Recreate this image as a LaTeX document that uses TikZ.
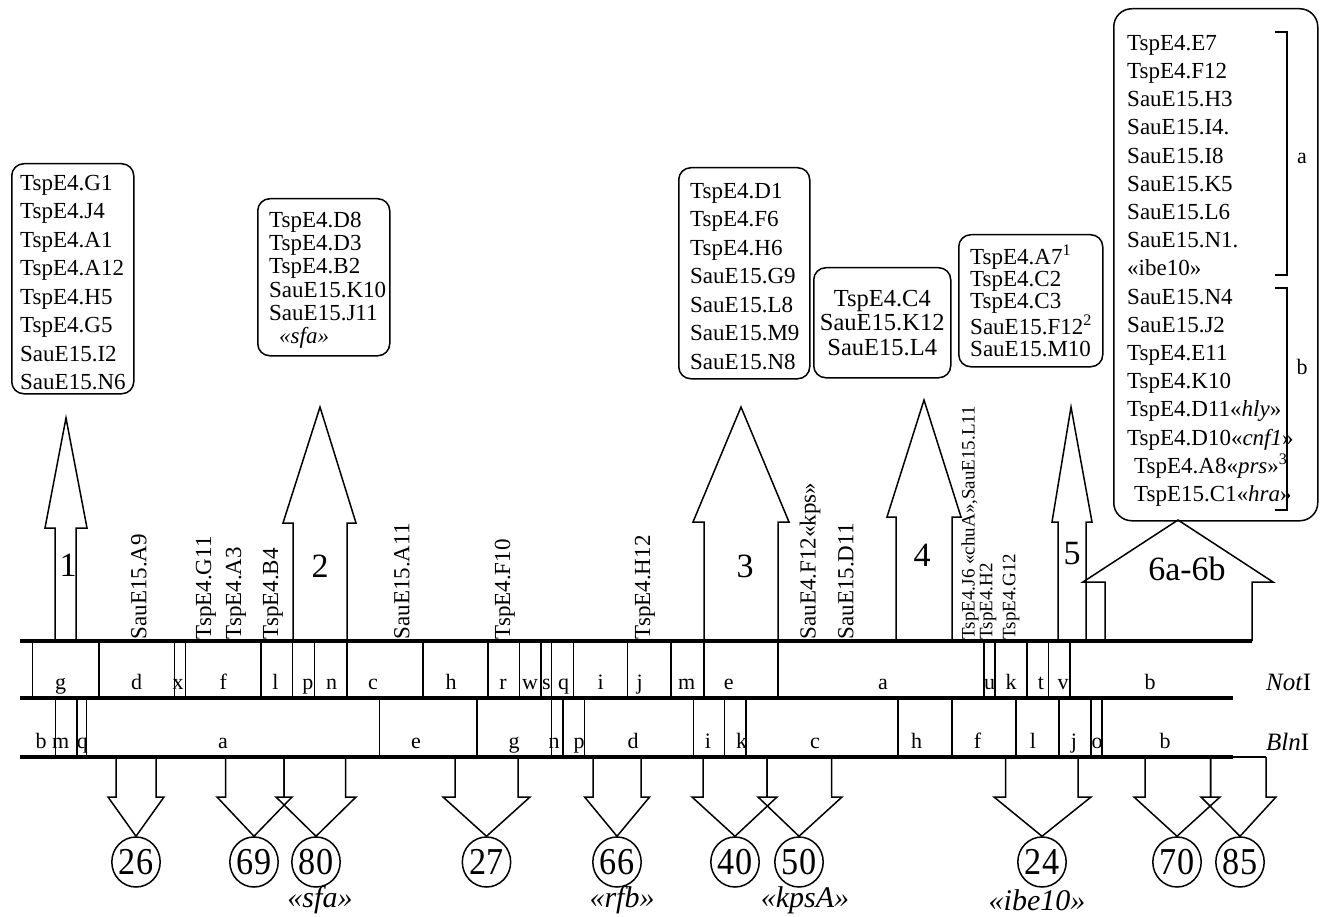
\documentclass[tikz,border=0pt]{standalone}
\usepackage{fontspec}
\setmainfont{Liberation Serif}
\usepackage{graphicx}
\usetikzlibrary{shapes.geometric}
\begin{document}
\begin{tikzpicture}[x=1pt,y=-1pt,
  ln/.style={line width=1.5pt, line join=miter},
  rowline/.style={line width=3.2pt},
  frame/.style={draw, line width=1.5pt, rounded corners=12pt, inner sep=0pt, anchor=north west},
  btext/.style={align=left, inner sep=0pt, anchor=north west, font=\fontsize{23}{#1}\selectfont},
  vlab/.style={rotate=90, anchor=west, inner sep=1.5pt, font=\fontsize{23}{23}\selectfont},
  vsmall/.style={rotate=90, anchor=west, inner sep=1.5pt, font=\fontsize{19}{19}\selectfont},
  rl/.style={anchor=base, inner sep=0pt, font=\fontsize{22}{22}\selectfont},
  big/.style={anchor=base, inner sep=0pt, font=\fontsize{34}{34}\selectfont},
  circ/.style={draw, line width=1.5pt, ellipse, minimum width=46pt, minimum height=50pt, inner sep=0pt, font=\fontsize{38}{38}\selectfont},
  blab/.style={inner sep=0pt, font=\fontsize{30}{30}\selectfont\itshape},
  enz/.style={anchor=base west, inner sep=0pt, font=\fontsize{25}{25}\selectfont}
]
\useasboundingbox (0,0) rectangle (1333,917);

% ---------- boxes ----------
\node[frame, minimum width=122pt, minimum height=230pt] (b1) at (11,163) {};
\node[btext=28.5] (t1) at (20,175) {TspE4.G1\\TspE4.J4\\TspE4.A1\\TspE4.A12\\TspE4.H5\\TspE4.G5\\SauE15.I2\\SauE15.N6};

\node[frame, minimum width=132pt, minimum height=157pt] (b2) at (257,198) {};
\node[btext=23.2] (t2) at (269,212) {TspE4.D8\\TspE4.D3\\TspE4.B2\\SauE15.K10\\SauE15.J11\\\hspace*{10pt}\textit{«sfa»}};

\node[frame, minimum width=131pt, minimum height=211pt] (b3) at (678,167) {};
\node[btext=28.5] (t3) at (690,183) {TspE4.D1\\TspE4.F6\\TspE4.H6\\SauE15.G9\\SauE15.L8\\SauE15.M9\\SauE15.N8};

\node[frame, minimum width=137pt, minimum height=110pt] (b4) at (813,267) {};
\node[align=center, inner sep=0pt, font=\fontsize{24.5}{24.5}\selectfont] (t4) at (b4.center) {TspE4.C4\\SauE15.K12\\SauE15.L4};

\node[frame, minimum width=144pt, minimum height=132pt] (b5) at (958,234) {};
\node[btext=22] (t5) at (970,245) {TspE4.A7\textsuperscript{1}\\TspE4.C2\\TspE4.C3\\SauE15.F12\textsuperscript{2}\\SauE15.M10};

\node[frame, minimum width=204pt, minimum height=512pt, rounded corners=18pt] (b6) at (1113,8) {};
\node[btext=28.2] (t6) at (1127,35) {TspE4.E7\\TspE4.F12\\SauE15.H3\\SauE15.I4.\\SauE15.I8\\SauE15.K5\\SauE15.L6\\SauE15.N1.\\«ibe10»\\SauE15.N4\\SauE15.J2\\TspE4.E11\\TspE4.K10\\TspE4.D11«\textit{hly}»\\TspE4.D10«\textit{cnf1}»\\\hspace*{7pt}TspE4.A8«\textit{prs}»\textsuperscript{3}\\\hspace*{7pt}TspE15.C1«\textit{hra}»};
\draw[ln] (1275,32) -- (1287,32) -- (1287,275) -- (1275,275);
\draw[ln] (1275,288) -- (1287,288) -- (1287,510) -- (1275,510);
\node[rl] (ga) at (1302,164) {a};
\node[rl] (gb) at (1302,374) {b};

% ---------- up arrows ----------
\coordinate (u1) at (66,418);
\draw[ln] (55,641) |- (45,528) -- (u1) -- (87,528) -| (76,641);
\coordinate (u2) at (320,407);
\draw[ln] (293,641) |- (283,523) -- (u2) -- (356,523) -| (347,641);
\coordinate (u3) at (741,407);
\draw[ln] (704,641) |- (693,522) -- (u3) -- (789,522) -| (778,641);
\coordinate (u4) at (924,400);
\draw[ln] (896,641) |- (887,517) -- (u4) -- (961,517) -| (952,641);
\coordinate (u5) at (1071,407);
\draw[ln] (1058,641) |- (1052,522) -- (u5) -- (1092,522) -| (1086,641);
\coordinate (u6) at (1178,520);
\draw[ln] (1105,641) |- (1083,582) -- (u6) -- (1273,582) -| (1252,641);

\node[big] (n1) at (68,576) {1};
\node[big] (n2) at (320,577) {2};
\node[big] (n3) at (745,577) {3};
\node[big] (n4) at (922,566) {4};
\node[big] (n5) at (1072,564) {5};
\node[big] (n6) at (1187,580) {6a-6b};

% ---------- vertical labels ----------
\node[vlab] (v1) at (139,641) {SauE15.A9};
\node[vlab] (v2) at (206,641) {TspE4.G11};
\node[vlab] (v3) at (236,641) {TspE4.A3};
\node[vlab] (v4) at (273,641) {TspE4.B4};
\node[vlab] (v5) at (402,641) {SauE15.A11};
\node[vlab] (v6) at (505,641) {TspE4.F10};
\node[vlab] (v7) at (645,641) {TspE4.H12};
\node[vlab] (v8) at (810,641) {SauE4.F12«kps»};
\node[vlab] (v9) at (846,641) {SauE15.D11};
\node[vsmall] (v10) at (970,641) {TspE4.J6 «chuA»,SauE15.L11};
\node[vsmall] (v11) at (988,641) {TspE4.H2};
\node[vsmall] (v12) at (1011,641) {TspE4.G12};

% ---------- rows ----------
\draw[rowline] (20,641) -- (1252,641);
\draw[rowline] (20,698) -- (1233,698);
\draw[rowline] (20,757) -- (1233,757);
\draw[ln] (1233,757) -- (1266,757);
\foreach \x in {32.5,98.9,174.3,185.6,261,292.7,314.4,347,422.8,487.9,519.5,541,551.6,573.3,627.5,671,704,778,984,994.8,1027,1048.4,1070}
  \draw[ln] (\x,641) -- (\x,698);
\foreach \x in {55.5,77.2,86.7,379.4,477,551.6,563,584.6,693.5,724.4,745.8,898,951.8,1016,1059,1091,1102}
  \draw[ln] (\x,698) -- (\x,757);
\foreach \x/\l in {60.7/g,136.6/d,178/x,223.3/f,275.4/l,307.9/p,331.7/n,373/c,451/h,503/r,530/w,546.4/s,563.7/q,600.6/i,639.6/j,686.6/m,728.7/e,883/a,989.6/u,1011/k,1041/t,1063/v,1150/b}
  \node[rl] at (\x,689) {\l};
\foreach \x/\l in {41/b,60.7/m,82.4/q,223/a,416/e,514/g,554/n,579/p,633/d,708/i,741.5/k,815/c,916.6/h,977.6/f,1033/l,1074/j,1097/o,1165/b}
  \node[rl] at (\x,748) {\l};
\node[enz] (notI) at (1266,690) {\textit{Not}I};
\node[enz] (blnI) at (1266,750) {\textit{Bln}I};

% ---------- down arrows and circles ----------
\node[circ] (c26) at (136,862) {\scalebox{0.9}[1]{26}};
\node[circ] (c69) at (254,862) {\scalebox{0.9}[1]{69}};
\node[circ] (c80) at (316,862) {\scalebox{0.9}[1]{80}};
\node[circ] (c27) at (486.5,862) {\scalebox{0.9}[1]{27}};
\node[circ] (c66) at (617,862) {\scalebox{0.9}[1]{66}};
\node[circ] (c40) at (735,862) {\scalebox{0.9}[1]{40}};
\node[circ] (c50) at (799,862) {\scalebox{0.9}[1]{50}};
\node[circ] (c24) at (1042,862) {\scalebox{0.9}[1]{24}};
\node[circ] (c70) at (1177,862) {\scalebox{0.9}[1]{70}};
\node[circ] (c85) at (1240,862) {\scalebox{0.9}[1]{85}};

\draw[ln] (116,757) |- (108,797) -- (c26.north) -- (164,797) -| (156,757);
\draw[ln] (225.5,757) |- (217,797) -- (c69.north) -- (292,797) -| (284,757);
\draw[ln] (284,757) |- (276,797) -- (c80.north) -- (356,797) -| (345.6,757);
\draw[ln] (455,757) |- (443,797) -- (c27.north) -- (530,797) -| (518,757);
\draw[ln] (593,757) |- (584.6,797) -- (c66.north) -- (649.6,797) -| (641,757);
\draw[ln] (703,757) |- (692,797) -- (c40.north) -- (777,797) -| (767,757);
\draw[ln] (767,757) |- (758,797) -- (c50.north) -- (842,797) -| (831.7,757);
\draw[ln] (1005.5,757) |- (994,797) -- (c24.north) -- (1091,797) -| (1078,757);
\draw[ln] (1145,757) |- (1134,797) -- (c70.north) -- (1220,797) -| (1210.6,757);
\draw[ln] (1210.6,757) |- (1201,797) -- (c85.north) -- (1276,797) -| (1266,757);

\node[blab] (l1) at (320,900) {«sfa»};
\node[blab] (l2) at (622,900) {«rfb»};
\node[blab] (l3) at (805,900) {«kpsA»};
\node[blab] (l4) at (1037,900) {«ibe10»};
\end{tikzpicture}
\end{document}
